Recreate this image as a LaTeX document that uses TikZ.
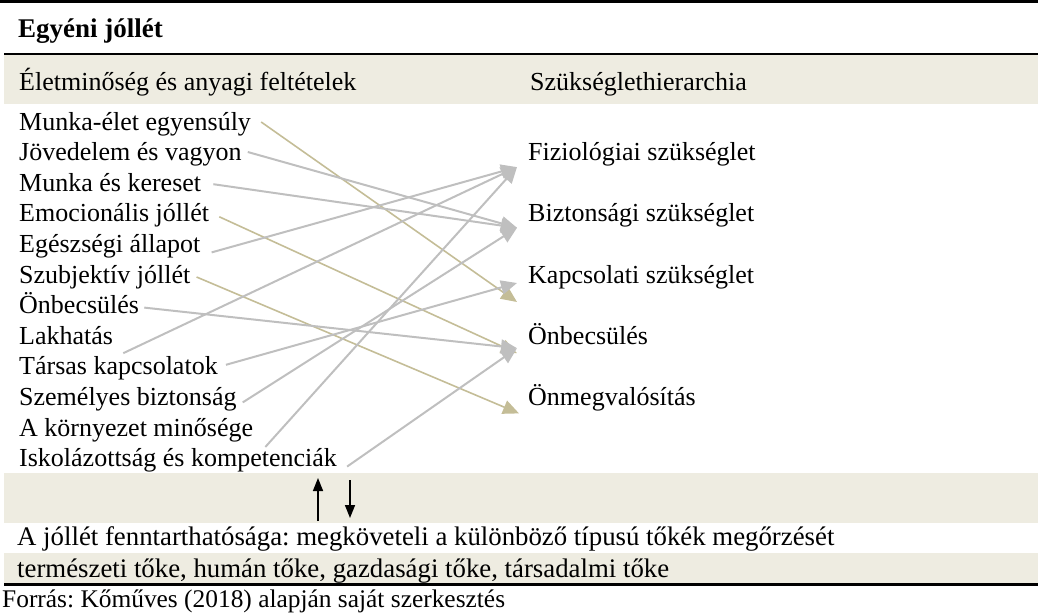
\documentclass[tikz,border=0pt]{standalone}
\usepackage{fontspec}
\setmainfont{Liberation Serif}
\usetikzlibrary{arrows.meta}
\definecolor{bandc}{HTML}{EEECE1}
\definecolor{gline}{HTML}{BFBFBF}
\definecolor{tline}{HTML}{C4BD97}
\begin{document}
\frenchspacing
\begin{tikzpicture}[x=1pt,y=-1pt,
  every node/.style={inner sep=0pt, anchor=base west, font=\fontsize{26}{31}\selectfont},
  rule/.style={line width=2.5pt, black},
  gconn/.style={gline, line width=2pt, -{Triangle[length=16pt,width=14pt]}},
  tconn/.style={tline, line width=1.6pt, -{Triangle[length=16pt,width=14pt]}},
  bigarrow/.style={black, line width=1.5pt, -{Triangle[length=13pt,width=10pt]}},
  bottomtext/.style={font=\fontsize{26.8}{31}\selectfont}]
\useasboundingbox (0,0) rectangle (1038,613);
% bands
\fill[bandc] (4,55) rectangle (1038,104);
\fill[bandc] (4,473) rectangle (1038,523);
\fill[bandc] (4,553) rectangle (1038,583);
% rules
\draw[rule] (0,1.5) -- (1038,1.5);
\draw[rule] (4,54) -- (1038,54);
\draw[rule] (4,584.5) -- (1038,584.5);
% headers
\node[font=\fontsize{27}{31}\selectfont\bfseries] (title) at (18,37) {Egyéni jóllét};
\node (hl) at (19,90) {Életminőség és anyagi feltételek};
\node (hr) at (530,90) {Szükséglethierarchia};
% left list
\node (l1) at (19,130.0) {Munka-élet egyensúly};
\node (l2) at (19,160.6) {Jövedelem és vagyon};
\node (l3) at (19,191.2) {Munka és kereset};
\node (l4) at (19,221.8) {Emocionális jóllét};
\node (l5) at (19,252.4) {Egészségi állapot};
\node (l6) at (19,283.0) {Szubjektív jóllét};
\node (l7) at (19,313.6) {Önbecsülés};
\node (l8) at (19,344.2) {Lakhatás};
\node (l9) at (19,374.8) {Társas kapcsolatok};
\node (l10) at (19,405.4) {Személyes biztonság};
\node (l11) at (19,436.0) {A környezet minősége};
\node (l12) at (19,466.6) {Iskolázottság és kompetenciák};
% right list
\node (r1) at (528,160.6) {Fiziológiai szükséglet};
\node (r2) at (528,221.8) {Biztonsági szükséglet};
\node (r3) at (528,283.0) {Kapcsolati szükséglet};
\node (r4) at (528,344.2) {Önbecsülés};
\node (r5) at (528,405.4) {Önmegvalósítás};
% arrow tip points
\coordinate (tF) at ([xshift=-11pt,yshift=-6.5pt]r1.base west);
\coordinate (tB) at ([xshift=-11pt,yshift=-6pt]r2.base west);
\coordinate (tKg) at ([xshift=-11pt,yshift=0pt]r3.base west);
\coordinate (tKb) at ([xshift=-11pt,yshift=-19pt]r3.base west);
\coordinate (tOg) at ([xshift=-11pt,yshift=-4pt]r4.base west);
\coordinate (tOb) at ([xshift=-11pt,yshift=-9pt]r4.base west);
\coordinate (tM) at ([xshift=-9pt,yshift=-8pt]r5.base west);
% connectors
\draw[tconn] ([xshift=10pt,yshift=8pt]l1.base east) -- (tKb);
\draw[gconn] ([xshift=6pt,yshift=8.6pt]l2.base east) -- (tB);
\draw[gconn] ([xshift=12pt,yshift=7pt]l3.base east) -- (tB);
\draw[tconn] ([xshift=10pt,yshift=5pt]l4.base east) -- (tOb);
\draw[gconn] ([xshift=11pt,yshift=0pt]l5.base east) -- (tF);
\draw[tconn] ([xshift=6pt,yshift=6pt]l6.base east) -- (tM);
\draw[gconn] ([xshift=5pt,yshift=6pt]l7.base east) -- (tOg);
\draw[gconn] ([xshift=10pt,yshift=-9pt]l8.base east) -- (tF);
\draw[gconn] ([xshift=8pt,yshift=10pt]l9.base east) -- (tKg);
\draw[gconn] ([xshift=6pt,yshift=3pt]l10.base east) -- (tB);
\draw[gconn] ([xshift=12pt,yshift=-11pt]l11.base east) -- (tF);
\draw[gconn] ([xshift=10pt,yshift=0pt]l12.base east) -- (tOg);
% vertical arrows
\coordinate (ua) at (318,521);
\coordinate (ub) at (318,478);
\coordinate (da) at (350,480);
\coordinate (db) at (350,518);
\draw[bigarrow] (ua) -- (ub);
\draw[bigarrow] (da) -- (db);
% bottom texts
\node[bottomtext] (b1) at (17,545) {A jóllét fenntarthatósága: megköveteli a különböző típusú tőkék megőrzését};
\node[bottomtext] (b2) at (17,577) {természeti tőke, humán tőke, gazdasági tőke, társadalmi tőke};
\node[font=\fontsize{25.4}{31}\selectfont] (src) at (2,607) {Forrás: Kőműves (2018) alapján saját szerkesztés};
\end{tikzpicture}
\end{document}
